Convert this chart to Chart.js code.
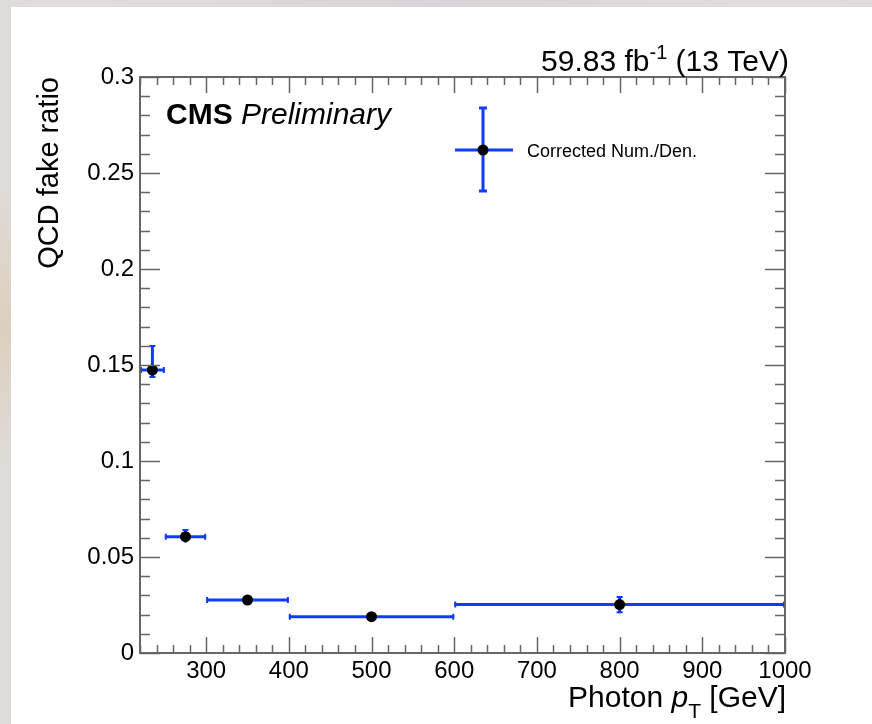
<!DOCTYPE html>
<html>
<head>
<meta charset="utf-8">
<script src="https://cdn.jsdelivr.net/npm/chart.js@4.4.1/dist/chart.umd.min.js"></script>
<style>
  html, body { margin: 0; padding: 0; }
  body {
    width: 872px; height: 724px; overflow: hidden; position: relative;
    background:
      radial-gradient(ellipse at 1% 45%, rgba(220,185,140,0.35), rgba(220,185,140,0) 25%),
      radial-gradient(ellipse at 50% 0%, rgba(205,198,205,0.6), rgba(205,198,205,0) 60%),
      linear-gradient(90deg, #dedbd8, #e8e6e4 50%, #dedcda);
  }
  #panel { position: absolute; left: 11px; top: 7px; right: 0; bottom: 0; background: #fff; }
  #c { position: absolute; left: 0; top: 0; }
</style>
</head>
<body>
<div id="panel"></div>
<canvas id="c" width="872" height="724"></canvas>
<script>
// ---- data ----
const binLow    = [220, 250, 300, 400, 600];
const binHigh   = [250, 300, 400, 600, 1000];
const binCenter = [235, 275, 350, 500, 800];
const fakeRatio = [0.1474, 0.0606, 0.0276, 0.0189, 0.0252];
const errUp     = [0.0130, 0.0040, 0.0010, 0.0008, 0.0045];
const errDown   = [0.0042, 0.0030, 0.0010, 0.0008, 0.0045];

const xTickValues = [300, 400, 500, 600, 700, 800, 900, 1000];
const xTickLabels = ['300', '400', '500', '600', '700', '800', '900', '1000'];
const yTickValues = [0, 0.05, 0.1, 0.15, 0.2, 0.25, 0.3];
const yTickLabels = ['0', '0.05', '0.1', '0.15', '0.2', '0.25', '0.3'];

const seriesLabel = 'Corrected Num./Den.';
const lumiText = '59.83 fb';
const lumiSup = '-1';
const lumiTail = ' (13 TeV)';

const FONT = '"Liberation Sans", Arial, Helvetica, sans-serif';
const BLUE = '#0f3cff';
const FRAME = '#666666';

const points = binCenter.map((x, i) => ({ x: x, y: fakeRatio[i] }));

const errorBars = {
  id: 'errorBars',
  beforeDatasetsDraw(chart) {
    const ctx = chart.ctx, xs = chart.scales.x, ys = chart.scales.y;
    ctx.save();
    ctx.strokeStyle = BLUE;
    ctx.lineCap = 'butt';
    for (let i = 0; i < binCenter.length; i++) {
      const xl = xs.getPixelForValue(binLow[i]);
      const xh = xs.getPixelForValue(binHigh[i]);
      const xc = xs.getPixelForValue(binCenter[i]);
      const yc = ys.getPixelForValue(fakeRatio[i]);
      const yu = ys.getPixelForValue(fakeRatio[i] + errUp[i]);
      const yd = ys.getPixelForValue(fakeRatio[i] - errDown[i]);
      ctx.lineWidth = 3;
      ctx.beginPath();
      ctx.moveTo(xl, yc); ctx.lineTo(xh, yc);
      ctx.moveTo(xc, yu); ctx.lineTo(xc, yd);
      ctx.stroke();
      ctx.lineWidth = 2;
      ctx.beginPath();
      ctx.moveTo(xl + 1, yc - 3); ctx.lineTo(xl + 1, yc + 3);
      ctx.moveTo(xh - 1, yc - 3); ctx.lineTo(xh - 1, yc + 3);
      if (yc - yu > 6) { ctx.moveTo(xc - 3, yu + 1); ctx.lineTo(xc + 3, yu + 1); }
      if (yd - yc > 6) { ctx.moveTo(xc - 3, yd - 1); ctx.lineTo(xc + 3, yd - 1); }
      ctx.stroke();
    }
    ctx.restore();
  }
};

const decorations = {
  id: 'decorations',
  afterDraw(chart) {
    const ctx = chart.ctx, a = chart.chartArea, xs = chart.scales.x, ys = chart.scales.y;
    ctx.save();
    // frame
    ctx.strokeStyle = FRAME;
    ctx.lineWidth = 2;
    ctx.strokeRect(a.left, a.top, a.right - a.left, a.bottom - a.top);
    // ticks (inside, all four sides)
    ctx.lineWidth = 1.5;
    ctx.beginPath();
    for (let v = xs.min; v <= xs.max + 1e-6; v += 20) {
      const p = Math.round(xs.getPixelForValue(v)) + 0.5;
      const major = Math.abs(v % 100) < 1e-6;
      const L = major ? 16 : 8;
      ctx.moveTo(p, a.bottom); ctx.lineTo(p, a.bottom - L);
      ctx.moveTo(p, a.top); ctx.lineTo(p, a.top + L);
    }
    for (let k = 0; k <= 30; k++) {
      const v = k * 0.01;
      const p = Math.round(ys.getPixelForValue(v)) + 0.5;
      const L = (k % 5 === 0) ? 20 : 10;
      ctx.moveTo(a.left, p); ctx.lineTo(a.left + L, p);
      ctx.moveTo(a.right, p); ctx.lineTo(a.right - L, p);
    }
    ctx.stroke();

    ctx.fillStyle = '#000';
    ctx.textBaseline = 'alphabetic';
    ctx.textAlign = 'left';
    // lumi label
    ctx.font = '30px ' + FONT;
    const wTail = ctx.measureText(lumiTail).width;
    const wMain = ctx.measureText(lumiText).width;
    ctx.font = '20px ' + FONT;
    const wSup = ctx.measureText(lumiSup).width;
    const xr = 789;
    ctx.font = '30px ' + FONT;
    ctx.fillText(lumiTail, xr - wTail, 71);
    ctx.fillText(lumiText, xr - wTail - wSup - wMain, 71);
    ctx.font = '20px ' + FONT;
    ctx.fillText(lumiSup, xr - wTail - wSup, 59);

    // CMS Preliminary
    ctx.font = 'bold 30px ' + FONT;
    ctx.fillText('CMS', 166, 124);
    const wCMS = ctx.measureText('CMS ').width;
    ctx.font = 'italic 30px ' + FONT;
    ctx.fillText('Preliminary', 166 + wCMS, 124);

    // y title
    ctx.save();
    ctx.translate(58, 77);
    ctx.rotate(-Math.PI / 2);
    ctx.font = '29px ' + FONT;
    ctx.textAlign = 'right';
    ctx.fillText('QCD fake ratio', 0, 0);
    ctx.restore();

    // x title: Photon p_T [GeV]
    ctx.font = '30px ' + FONT;
    const t1 = 'Photon ', t3 = ' [GeV]';
    const w1 = ctx.measureText(t1).width;
    const w3 = ctx.measureText(t3).width;
    ctx.font = 'italic 30px ' + FONT;
    const w2 = ctx.measureText('p').width;
    ctx.font = '21px ' + FONT;
    const wT = ctx.measureText('T').width;
    const xEnd = 786;
    const x0 = xEnd - w3 - wT - w2 - w1;
    ctx.font = '30px ' + FONT;
    ctx.fillText(t1, x0, 707);
    ctx.font = 'italic 30px ' + FONT;
    ctx.fillText('p', x0 + w1, 707);
    ctx.font = '21px ' + FONT;
    ctx.fillText('T', x0 + w1 + w2, 718);
    ctx.font = '30px ' + FONT;
    ctx.fillText(t3, x0 + w1 + w2 + wT, 707);

    // legend
    const lx = 483, ly = 150;
    ctx.strokeStyle = BLUE;
    ctx.lineWidth = 3;
    ctx.beginPath();
    ctx.moveTo(455, ly); ctx.lineTo(513, ly);
    ctx.moveTo(lx, 107); ctx.lineTo(lx, 192);
    ctx.moveTo(lx - 4, 108); ctx.lineTo(lx + 4, 108);
    ctx.moveTo(lx - 4, 191); ctx.lineTo(lx + 4, 191);
    ctx.stroke();
    ctx.fillStyle = '#000';
    ctx.beginPath();
    ctx.arc(lx, ly, 5.5, 0, Math.PI * 2);
    ctx.fill();
    ctx.font = '18px ' + FONT;
    ctx.textBaseline = 'middle';
    ctx.fillText(seriesLabel, 527, ly + 2);
    ctx.restore();
  }
};

new Chart(document.getElementById('c'), {
  type: 'scatter',
  data: {
    datasets: [{
      label: seriesLabel,
      data: points,
      pointRadius: 5.5,
      pointHoverRadius: 5.5,
      pointBackgroundColor: '#000',
      pointBorderColor: '#000',
      pointBorderWidth: 0,
      showLine: false
    }]
  },
  options: {
    responsive: false,
    animation: false,
    devicePixelRatio: 1,
    layout: { padding: { left: 0, right: 87, top: 77, bottom: 0 } },
    plugins: { legend: { display: false }, tooltip: { enabled: false } },
    scales: {
      x: {
        type: 'linear', min: 220, max: 1000,
        grid: { display: false, drawTicks: false },
        border: { display: false },
        afterBuildTicks: s => { s.ticks = xTickValues.map(v => ({ value: v })); },
        afterFit: s => { s.height = 71; },
        ticks: {
          color: '#000', padding: 4, maxRotation: 0, autoSkip: false,
          font: { family: FONT, size: 24 },
          callback: (v) => xTickLabels[xTickValues.indexOf(v)]
        }
      },
      y: {
        type: 'linear', min: 0, max: 0.3,
        grid: { display: false, drawTicks: false },
        border: { display: false },
        afterBuildTicks: s => { s.ticks = yTickValues.map(v => ({ value: v })); },
        afterFit: s => { s.width = 140; },
        ticks: {
          color: '#000', padding: 6, autoSkip: false,
          font: { family: FONT, size: 24 },
          callback: (v) => yTickLabels[yTickValues.findIndex(t => Math.abs(t - v) < 1e-9)]
        }
      }
    }
  },
  plugins: [errorBars, decorations]
});
</script>
</body>
</html>
